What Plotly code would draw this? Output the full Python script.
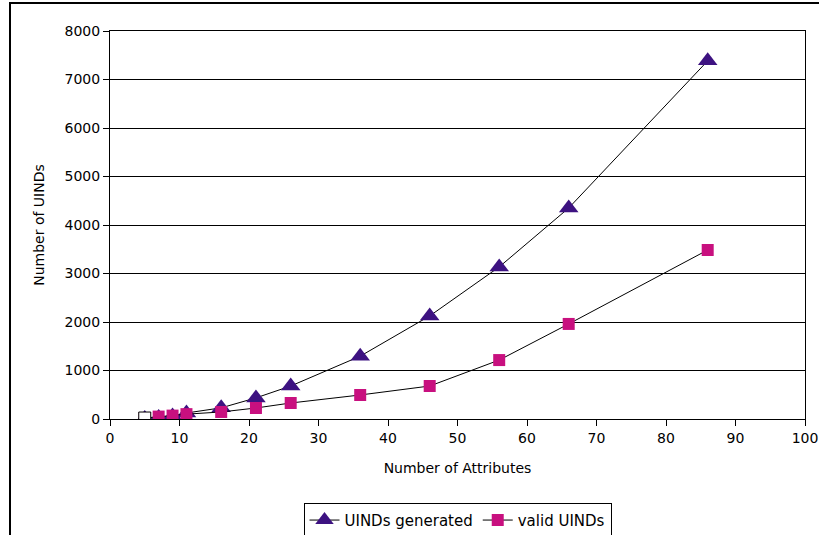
import plotly.graph_objects as go

attributes = [5, 7, 9, 11, 16, 21, 26, 36, 46, 56, 66, 86]
uinds_generated = [10, 30, 60, 124, 230, 435, 680, 1295, 2125, 3135, 4350, 7385]
valid_uinds = [20, 50, 70, 100, 145, 227, 330, 495, 680, 1215, 1960, 3485]

x_ticks = list(range(0, 101, 10))
y_ticks = list(range(0, 8001, 1000))

FONT = "'DejaVu Sans', sans-serif"
PURPLE = "#3d1281"
MAGENTA = "#c8107f"

fig = go.Figure()
fig.add_trace(go.Scatter(
    x=attributes, y=uinds_generated, mode="lines+markers", name="UINDs generated",
    line=dict(color="black", width=1),
    marker=dict(symbol="triangle-up", size=17, color=PURPLE, line=dict(width=0)),
))
fig.add_trace(go.Scatter(
    x=attributes, y=valid_uinds, mode="lines+markers", name="valid UINDs",
    line=dict(color="black", width=1),
    marker=dict(symbol="square", size=12, color=MAGENTA, line=dict(width=0)),
))
fig.add_trace(go.Scatter(
    x=attributes[:1], y=valid_uinds[:1], mode="markers", showlegend=False,
    marker=dict(symbol="square", size=12, color="white", line=dict(width=1, color="black")),
))

fig.update_layout(
    width=819, height=535,
    margin=dict(l=110, r=14, t=31, b=116, autoexpand=False),
    paper_bgcolor="white", plot_bgcolor="white",
    font=dict(family=FONT, size=13, color="black"),
    showlegend=True,
    legend=dict(orientation="h", x=0.5, xanchor="center", y=-0.216, yanchor="top",
                bordercolor="black", borderwidth=1, bgcolor="white",
                font=dict(family=FONT, size=15), itemwidth=30, tracegroupgap=0),
    xaxis=dict(range=[0, 100], tickmode="array", tickvals=x_ticks, automargin=False,
               showgrid=False, zeroline=False, showline=True, linecolor="black", linewidth=1,
               mirror=True, ticks="outside", ticklen=6, tickcolor="black",
               tickfont=dict(size=14),
               title=dict(text="Number of Attributes", font=dict(size=14), standoff=18)),
    yaxis=dict(range=[0, 8000], tickmode="array", tickvals=y_ticks, automargin=False,
               showgrid=True, gridcolor="black", gridwidth=1,
               zeroline=False, showline=True, linecolor="black", linewidth=1,
               mirror=True, ticks="outside", ticklen=6, tickcolor="black",
               tickfont=dict(size=14),
               title=dict(text="Number of UINDs", font=dict(size=14), standoff=16)),
)

frame_js = (
    "document.body.style.margin='0';document.body.style.overflow='hidden';"
    "var d=document.createElement('div');"
    "d.style.cssText='position:absolute;left:9px;top:2px;width:900px;height:700px;"
    "border:2px solid black;pointer-events:none;z-index:10;box-sizing:border-box;';"
    "document.body.appendChild(d);"
)

fig.write_html("out.html", config={"displayModeBar": False}, post_script=frame_js)
